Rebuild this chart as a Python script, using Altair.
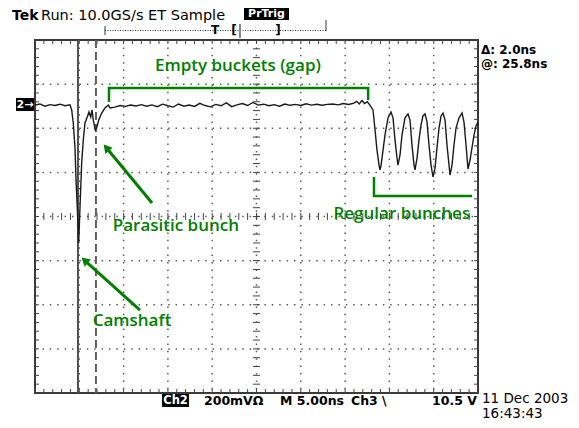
import altair as alt
import pandas as pd

# ---------------- data (time in ns, amplitude in mV; 5 ns/div, 200 mV/div) ----------------
trace_t = [0.00, 0.56, 1.13, 1.69, 2.26, 2.82, 3.39, 3.95, 4.14, 4.32, 4.51, 4.63, 4.77, 4.93,
           5.08, 5.27, 5.45, 5.64, 5.90, 6.09, 6.29, 6.43, 6.58, 6.81, 6.96, 7.19, 7.53, 7.90,
           8.27, 8.47,
           9.0, 9.6, 10.2, 10.8, 11.4, 12.0, 12.6, 13.2, 13.8, 14.4, 15.0, 15.6, 16.2, 16.8,
           17.4, 18.0, 18.6, 19.2, 19.8, 20.4, 21.0, 21.6, 22.2, 22.8, 23.4, 24.0, 24.6, 25.2,
           25.8, 26.4, 27.0, 27.6, 28.2, 28.8, 29.4, 30.0, 30.6, 31.2, 31.8, 32.4, 33.0, 33.6,
           34.2, 34.8, 35.4, 36.0, 36.3, 36.6, 36.9, 37.2, 37.5, 37.8,
           38.15, 38.38, 38.60, 38.83, 38.94, 39.05, 39.28, 39.50, 39.84, 40.18, 40.41, 40.63,
           40.86, 40.97, 41.20, 41.42, 41.76, 42.10, 42.33, 42.55, 42.78, 42.89, 43.12, 43.34,
           43.57, 43.79, 44.02, 44.25, 44.47, 44.70, 44.92, 45.15, 45.37, 45.60, 45.83, 46.05,
           46.28, 46.50, 46.73, 46.84, 47.07, 47.29, 47.52, 47.86, 48.20, 48.42, 48.65, 48.87,
           49.10, 49.32, 49.55, 49.77, 50.00]
trace_v = [505, 510, 500, 507, 503, 509, 502, 506, 483, 424, 315, 165, 43, -120,
           43, 243, 347, 424, 451, 474, 451, 483, 437, 392, 401, 437, 469, 492,
           505, 492,
           496, 503, 499, 505, 501, 507, 500, 506, 498, 509, 502, 496, 510, 500,
           505, 499, 513, 503, 497, 508, 502, 515, 498, 506, 512, 503, 517, 505,
           509, 502, 507, 500, 510, 504, 508, 503, 511, 505, 509, 504, 508, 510,
           506, 512, 508, 514, 522, 510, 526, 512, 520, 505,
           483, 392, 301, 233, 211, 229, 301, 369, 447, 474, 447, 347,
           265, 233, 279, 369, 447, 465, 437, 324, 233, 211, 265, 347,
           415, 456, 465, 428, 324, 233, 179, 220, 311, 401, 456, 469,
           437, 324, 233, 188, 233, 324, 401, 447, 469, 428, 324, 215,
           256, 311, 369, 410, 428]

cursor_t = [4.85, 6.88]          # solid cursor, dashed cursor (delta = 2.0 ns)

major_t = [0, 5, 10, 15, 20, 25, 30, 35, 40, 45, 50]
major_v = [-800, -600, -400, -200, 0, 200, 400, 600, 800]
minor_t = list(range(0, 51))
minor_v = list(range(-800, 801, 40))

# annotations (data coordinates)
ann_text = ["Empty buckets (gap)", "Parasitic bunch", "Camshaft", "Regular bunches"]
ann_t = [22.9, 15.9, 10.95, 41.4]
ann_v = [684, -43, -474, 10]

bracket_grp = ["gap", "gap", "gap", "gap", "reg", "reg", "reg"]
bracket_t = [8.35, 8.35, 37.6, 37.6, 38.26, 38.26, 49.32]
bracket_v = [519, 582, 582, 528, 179, 93, 93]

arrow_t = [13.21, 11.85]
arrow_v = [61, -424]
arrow_t2 = [8.15, 5.72]
arrow_v2 = [307, -203]
arrow_angle = [320, 312]

GREEN = "#008000"
W, H = 443, 353

xs = alt.Scale(domain=[0, 50], nice=False, zero=False)
ys = alt.Scale(domain=[-800, 800], nice=False, zero=False)


def X(f):
    return alt.X(f, type="quantitative", scale=xs, axis=None)


def Y(f):
    return alt.Y(f, type="quantitative", scale=ys, axis=None)


# ---------------- graticule ----------------
vgrid = alt.Chart(pd.DataFrame({"t": major_t[1:-1]})).mark_rule(
    color="#5a5a5a", strokeWidth=1.5, strokeDash=[1.5, 5.9]
).encode(x=X("t"), y=alt.value(0), y2=alt.value(H))

hgrid = alt.Chart(pd.DataFrame({"v": major_v[1:-1]})).mark_rule(
    color="#5a5a5a", strokeWidth=1.5, strokeDash=[1.5, 5.9]
).encode(y=Y("v"), x=alt.value(0), x2=alt.value(W))

ct_x = alt.Chart(pd.DataFrame({"t": minor_t, "a": [-16] * len(minor_t), "b": [16] * len(minor_t)})).mark_rule(
    color="#444", strokeWidth=1
).encode(x=X("t"), y=Y("a"), y2=alt.Y2("b"))
ct_y = alt.Chart(pd.DataFrame({"v": minor_v, "a": [24.6] * len(minor_v), "b": [25.4] * len(minor_v)})).mark_rule(
    color="#444", strokeWidth=1
).encode(y=Y("v"), x=X("a"), x2=alt.X2("b"))

bt_bottom = alt.Chart(pd.DataFrame({"t": minor_t, "a": [-800] * len(minor_t), "b": [-782] * len(minor_t)})).mark_rule(
    color="#444", strokeWidth=1).encode(x=X("t"), y=Y("a"), y2=alt.Y2("b"))
bt_top = alt.Chart(pd.DataFrame({"t": minor_t, "a": [800] * len(minor_t), "b": [782] * len(minor_t)})).mark_rule(
    color="#444", strokeWidth=1).encode(x=X("t"), y=Y("a"), y2=alt.Y2("b"))
bt_left = alt.Chart(pd.DataFrame({"v": minor_v, "a": [0] * len(minor_v), "b": [0.45] * len(minor_v)})).mark_rule(
    color="#444", strokeWidth=1).encode(y=Y("v"), x=X("a"), x2=alt.X2("b"))
bt_right = alt.Chart(pd.DataFrame({"v": minor_v, "a": [50] * len(minor_v), "b": [49.55] * len(minor_v)})).mark_rule(
    color="#444", strokeWidth=1).encode(y=Y("v"), x=X("a"), x2=alt.X2("b"))

# ---------------- cursors ----------------
cur_solid = alt.Chart(pd.DataFrame({"t": cursor_t[:1]})).mark_rule(color="#505050", strokeWidth=2).encode(
    x=X("t"), y=alt.value(0), y2=alt.value(H))
cur_dash = alt.Chart(pd.DataFrame({"t": cursor_t[1:]})).mark_rule(
    color="#606060", strokeWidth=2, strokeDash=[8, 4]).encode(x=X("t"), y=alt.value(0), y2=alt.value(H))

# ---------------- trace ----------------
trace = alt.Chart(pd.DataFrame({"t": trace_t, "v": trace_v, "i": list(range(len(trace_t)))})).mark_line(
    color="#1a1a1a", strokeWidth=1.4
).encode(x=X("t"), y=Y("v"), order="i:Q")

# ---------------- annotations ----------------
brackets = alt.Chart(pd.DataFrame({"g": bracket_grp, "t": bracket_t, "v": bracket_v,
                                   "i": list(range(len(bracket_t)))})).mark_line(
    color=GREEN, strokeWidth=2.5, strokeCap="butt", strokeJoin="miter"
).encode(x=X("t"), y=Y("v"), detail="g:N", order="i:Q")

arrows = alt.Chart(pd.DataFrame({"t": arrow_t, "v": arrow_v, "t2": arrow_t2, "v2": arrow_v2})).mark_rule(
    color=GREEN, strokeWidth=3).encode(x=X("t"), y=Y("v"), x2=alt.X2("t2"), y2=alt.Y2("v2"))
heads = alt.Chart(pd.DataFrame({"t": arrow_t2, "v": arrow_v2, "a": arrow_angle})).mark_point(
    shape="triangle", filled=True, color=GREEN, opacity=1, size=90
).encode(x=X("t"), y=Y("v"), angle=alt.Angle("a:Q", scale=None))

ann = alt.Chart(pd.DataFrame({"s": ann_text, "t": ann_t, "v": ann_v})).mark_text(
    font="Open Sans", fontSize=17, fontWeight=600, color=GREEN, align="center", baseline="middle"
).encode(x=X("t"), y=Y("v"), text="s:N")


# ---------------- scope chrome (page pixel positions) ----------------
def label(s, x, y, size=12.5, color="black", weight="normal", align="left", font="DejaVu Sans"):
    return alt.Chart(pd.DataFrame({"s": [s]})).mark_text(
        align=align, baseline="middle", fontSize=size, font=font, fontWeight=weight, color=color
    ).encode(x=alt.value(x - 35), y=alt.value(y - 40), text="s:N")


def box(x1, y1, x2, y2):
    return alt.Chart(pd.DataFrame({"k": [0]})).mark_rect(color="black").encode(
        x=alt.value(x1 - 35), x2=alt.value(x2 - 35), y=alt.value(y1 - 40), y2=alt.value(y2 - 40))


def hline(x1, x2, y, dash=None, color="#333", w=1):
    kw = dict(color=color, strokeWidth=w)
    if dash:
        kw["strokeDash"] = dash
    return alt.Chart(pd.DataFrame({"k": [0]})).mark_rule(**kw).encode(
        x=alt.value(x1 - 35), x2=alt.value(x2 - 35), y=alt.value(y - 40))


def vline(x, y1, y2, color="#333", w=1):
    return alt.Chart(pd.DataFrame({"k": [0]})).mark_rule(color=color, strokeWidth=w).encode(
        x=alt.value(x - 35), y=alt.value(y1 - 40), y2=alt.value(y2 - 40))


chrome = [
    label("Tek", 12, 15.5, size=14, weight="bold"),
    label("Run: 10.0GS/s ET Sample", 41, 15.5, size=14.5),
    box(244, 8, 289, 20),
    label("PrTrig", 266.5, 14, size=11, color="white", weight="bold", align="center"),
    hline(105, 326, 30.5, dash=[1, 1.5]),
    vline(105, 26, 35),
    vline(326, 20, 31),
    label("T", 215, 30, size=12, weight="bold", align="center"),
    label("[", 234, 30, size=12, weight="bold", align="center"),
    vline(240, 24, 38, color="#888", w=2),
    label("]", 278, 30, size=12, weight="bold", align="center"),
    label("\u0394: 2.0ns", 481, 50, size=12, weight="bold"),
    label("@: 25.8ns", 481, 63.5, size=12, weight="bold"),
    box(16, 98, 34, 111),
    label("2\u2192", 25, 104.5, size=11, color="white", weight="bold", align="center"),
    box(162, 394, 189, 407),
    label("Ch2", 175.5, 400.5, size=11.5, color="white", weight="bold", align="center"),
    label("200mV\u03a9", 204, 401, size=12.5, weight="bold"),
    label("M 5.00ns", 280, 401, size=12.5, weight="bold"),
    label("Ch3 \\", 351, 401, size=12.5, weight="bold"),
    label("10.5 V", 432, 401, size=12.5, weight="bold"),
    label("11 Dec 2003", 482, 398.5, size=13.5),
    label("16:43:43", 482, 413.5, size=13.5),
]

layers = [vgrid, hgrid, ct_x, ct_y, bt_bottom, bt_top, bt_left, bt_right,
          cur_solid, cur_dash, trace, brackets, arrows, heads, ann] + chrome

chart = alt.layer(*layers).properties(
    width=W, height=H,
    autosize=alt.AutoSizeParams(type="none"),
    padding={"left": 27, "top": 32, "right": 93, "bottom": 27},
    background="white",
).configure_view(stroke="#3a3a3a", strokeWidth=2)

chart.save("out.html", embed_options={"renderer": "svg", "actions": False})
